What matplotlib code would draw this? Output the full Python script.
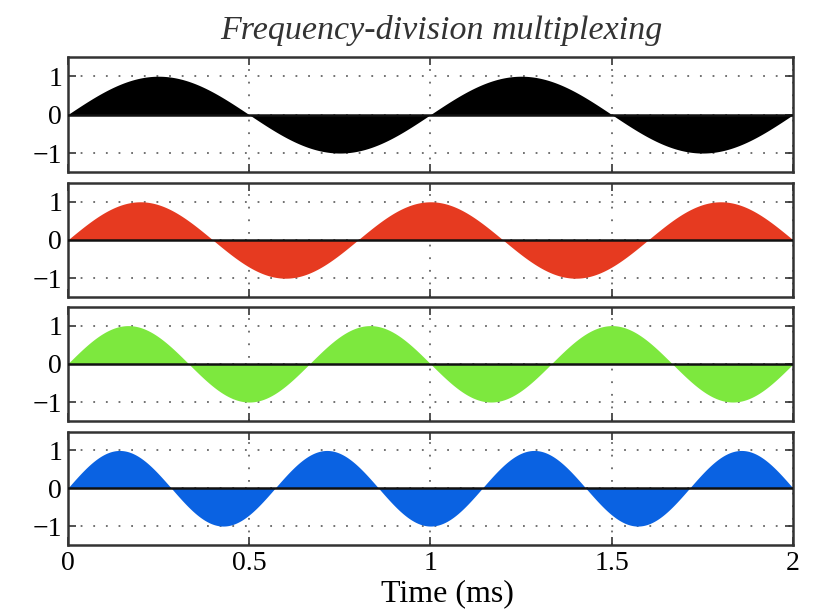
import numpy as np
import matplotlib
matplotlib.use("Agg")
import matplotlib.pyplot as plt

# carrier frequencies (kHz), one per channel
freqs_khz = [1.0, 1.25, 1.5, 1.75]
colors = ["#000000", "#e63a20", "#7de83e", "#0a62e2"]
x_ticks = [0, 0.5, 1, 1.5, 2]
x_tick_labels = ["0", "0.5", "1", "1.5", "2"]
y_ticks = [-1, 0, 1]

plt.rcParams["font.family"] = ["Liberation Serif", "DejaVu Serif"]

t = np.linspace(0, 2, 2000)  # time in ms

fig = plt.figure(figsize=(8.16, 6.13), dpi=100)

# axes boxes in figure coordinates [left, bottom, width, height]
boxes = [
    [0.083, 0.719, 0.889, 0.188],
    [0.083, 0.515, 0.889, 0.187],
    [0.083, 0.313, 0.889, 0.187],
    [0.083, 0.111, 0.889, 0.185],
]

axes = []
for i, (f, c) in enumerate(zip(freqs_khz, colors)):
    ax = fig.add_axes(boxes[i])
    ax.set_axisbelow(True)
    y = np.sin(2 * np.pi * f * t)
    ax.fill_between(t, 0, y, color=c, linewidth=0, zorder=2)
    ax.axhline(0, color="#111111", lw=1.8, zorder=3)
    ax.set_xlim(0, 2)
    ax.set_ylim(-1.5, 1.5)
    ax.set_xticks(x_ticks)
    ax.set_yticks(y_ticks)
    ax.set_yticklabels(["\u22121", "0", "1"])
    ax.grid(True, linestyle=(0, (1, 6)), color="#666666", lw=1.3)
    ax.tick_params(direction="in", top=True, right=True, length=6,
                   width=1.2, labelsize=20, pad=4, color="#333333")
    for s in ax.spines.values():
        s.set_linewidth(1.8)
        s.set_color("#333333")
    if i < 3:
        ax.set_xticklabels([])
    else:
        ax.set_xticklabels(x_tick_labels)
        ax.set_xlabel("Time (ms)", fontsize=23)
        ax.xaxis.set_label_coords(0.523, -0.3)
    axes.append(ax)

fig.text(0.541, 0.951, "Frequency-division multiplexing", ha="center",
         va="center", fontsize=24.5, style="italic", color="#333333")

fig.savefig("out.png", dpi=100)
